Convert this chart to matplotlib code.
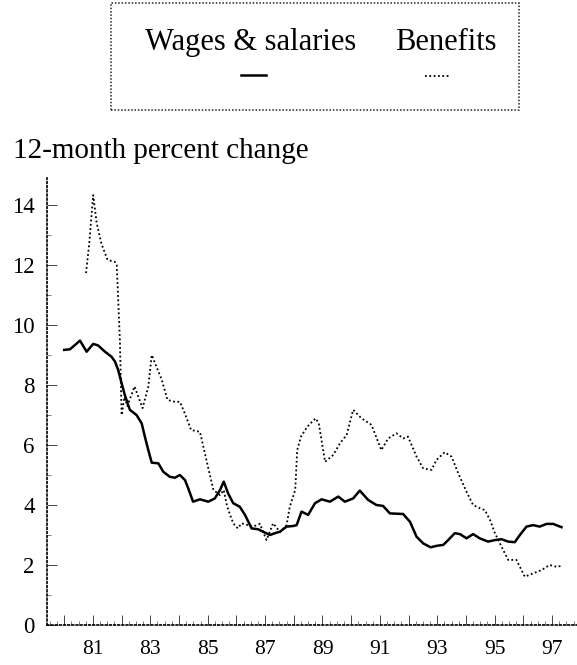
import matplotlib
matplotlib.use('Agg')
import matplotlib.pyplot as plt
from matplotlib.lines import Line2D
from matplotlib.patches import Rectangle

plt.rcParams['font.family'] = ['Liberation Serif', 'DejaVu Serif']

# 12-month percent change
wage_years = [1980.00, 1980.20, 1980.37, 1980.55, 1980.78, 1981.01, 1981.18, 1981.42, 1981.65, 1981.77,
              1981.88, 1982.00, 1982.11, 1982.29, 1982.52, 1982.70, 1982.81, 1982.93, 1983.05, 1983.28,
              1983.45, 1983.68, 1983.86, 1984.03, 1984.21, 1984.32, 1984.49, 1984.73, 1985.02, 1985.25,
              1985.43, 1985.56, 1985.71, 1985.89, 1986.12, 1986.30, 1986.53, 1986.76, 1986.93, 1987.17,
              1987.34, 1987.52, 1987.75, 1987.98, 1988.10, 1988.27, 1988.50, 1988.74, 1988.97, 1989.26,
              1989.55, 1989.78, 1990.07, 1990.30, 1990.59, 1990.88, 1991.11, 1991.35, 1991.81, 1992.05,
              1992.28, 1992.51, 1992.77, 1992.98, 1993.21, 1993.38, 1993.61, 1993.79, 1994.02, 1994.25,
              1994.48, 1994.77, 1995.01, 1995.24, 1995.47, 1995.70, 1995.88, 1996.11, 1996.34, 1996.57,
              1996.81, 1997.04, 1997.33]
wage_values = [9.17, 9.19, 9.33, 9.48, 9.11, 9.37, 9.32, 9.11, 8.94, 8.78,
               8.5, 8.06, 7.67, 7.17, 7.0, 6.72, 6.28, 5.83, 5.41, 5.39,
               5.11, 4.94, 4.91, 5.0, 4.83, 4.56, 4.11, 4.19, 4.11, 4.22,
               4.5, 4.78, 4.39, 4.06, 3.94, 3.67, 3.22, 3.19, 3.11, 3.0,
               3.06, 3.11, 3.28, 3.3, 3.33, 3.78, 3.67, 4.06, 4.19, 4.11,
               4.28, 4.11, 4.22, 4.48, 4.17, 4.0, 3.97, 3.72, 3.7, 3.44,
               2.94, 2.72, 2.59, 2.64, 2.67, 2.83, 3.06, 3.03, 2.89, 3.03,
               2.89, 2.78, 2.83, 2.86, 2.78, 2.76, 3.0, 3.28, 3.33, 3.28,
               3.37, 3.37, 3.26]

benefit_years = [1980.76, 1980.87, 1981.01, 1981.13, 1981.30, 1981.51, 1981.77, 1981.83, 1981.94, 1982.00,
                 1982.10, 1982.20, 1982.45, 1982.73, 1982.93, 1983.05, 1983.40, 1983.60, 1983.86, 1984.03,
                 1984.20, 1984.42, 1984.73, 1984.85, 1985.02, 1985.20, 1985.43, 1985.56, 1985.68, 1985.89,
                 1986.05, 1986.18, 1986.58, 1986.82, 1987.05, 1987.28, 1987.52, 1987.75, 1987.86, 1988.05,
                 1988.12, 1988.25, 1988.47, 1988.76, 1988.87, 1989.09, 1989.38, 1989.61, 1989.84, 1990.07,
                 1990.36, 1990.71, 1991.05, 1991.29, 1991.58, 1991.81, 1991.98, 1992.28, 1992.51, 1992.80,
                 1992.97, 1993.26, 1993.50, 1993.73, 1994.02, 1994.25, 1994.49, 1994.66, 1994.84, 1995.01,
                 1995.24, 1995.47, 1995.76, 1996.05, 1996.34, 1996.63, 1996.92, 1997.15, 1997.33]
benefit_values = [11.73, 12.7, 14.33, 13.4, 12.7, 12.17, 12.1, 12.0, 9.5, 7.0,
                  7.6, 7.3, 7.95, 7.23, 7.94, 9.0, 8.17, 7.5, 7.44, 7.44,
                  7.06, 6.5, 6.44, 5.94, 5.23, 4.5, 4.33, 4.5, 3.94, 3.39,
                  3.22, 3.39, 3.28, 3.37, 2.83, 3.39, 3.1, 3.33, 3.94, 4.5,
                  5.83, 6.28, 6.61, 6.89, 6.72, 5.44, 5.67, 6.06, 6.33, 7.17,
                  6.89, 6.67, 5.83, 6.22, 6.39, 6.22, 6.28, 5.61, 5.22, 5.17,
                  5.5, 5.76, 5.61, 5.06, 4.44, 4.0, 3.89, 3.83, 3.5, 3.06,
                  2.61, 2.17, 2.17, 1.61, 1.72, 1.83, 2.0, 1.94, 1.97]

tick_years = list(range(1980, 1998))
tick_labels = [str(y)[2:] if y % 2 == 1 else '' for y in tick_years]
y_ticks = [0, 2, 4, 6, 8, 10, 12, 14]

W, H = 577, 665
fig = plt.figure(figsize=(W / 100, H / 100), dpi=100)

def fx(px):
    return px / W

def fy(py):
    return 1 - py / H

# axes placed to match the original frame
ax = fig.add_axes([fx(47), fy(625), fx(577) - fx(47), fy(178) - fy(625)])

ax.plot(wage_years, wage_values, color='black', linewidth=1.8, solid_joinstyle='round')
ax.plot(benefit_years, benefit_values, color='black', linewidth=1.3, linestyle=(0, (1, 1.4)))

ax.set_xlim(1979.4, 1997.87)
ax.set_ylim(0, 14.9)

for side in ['top', 'right']:
    ax.spines[side].set_visible(False)
for side in ['left', 'bottom']:
    ax.spines[side].set_linestyle((0, (1, 1.5)))
    ax.spines[side].set_linewidth(1.2)

ax.set_xticks(tick_years)
ax.set_xticklabels(tick_labels)
ax.set_xticks([y + q / 4 for y in range(1979, 1998) for q in range(1, 4)
               if 1979.4 < y + q / 4 < 1997.87], minor=True)
ax.set_yticks(y_ticks)
ax.set_yticks([1, 3, 5, 7, 9, 11, 13], minor=True)

ax.tick_params(axis='both', which='major', direction='in', length=7, width=0.7,
               color='#444444')
ax.tick_params(axis='both', which='minor', direction='in', length=3, width=0.6,
               color='#666666')
ax.tick_params(axis='x', which='major', pad=11, labelsize=15.5)
ax.tick_params(axis='y', which='major', pad=9, labelsize=16.5)

# title above the plot
fig.text(fx(13), fy(158), '12-month percent change', fontsize=21, va='baseline', ha='left')

# legend box drawn by hand
fig.patches.append(Rectangle((fx(111), fy(110)), fx(519) - fx(111), fy(3) - fy(110),
                             transform=fig.transFigure, fill=False, edgecolor='#222222',
                             linewidth=1.1, linestyle=(0, (1, 1.2))))
fig.text(fx(251), fy(50), 'Wages & salaries', fontsize=22, ha='center', va='baseline')
fig.text(fx(446), fy(50), 'Benefits', fontsize=22, ha='center', va='baseline')
fig.lines.append(Line2D([fx(241), fx(266)], [fy(75), fy(75)], transform=fig.transFigure,
                        color='black', linewidth=1.8))
fig.lines.append(Line2D([fx(425), fx(450)], [fy(76), fy(76)], transform=fig.transFigure,
                        color='black', linewidth=1.3, linestyle=(0, (1, 1.4))))

fig.savefig('out.png', dpi=100)
